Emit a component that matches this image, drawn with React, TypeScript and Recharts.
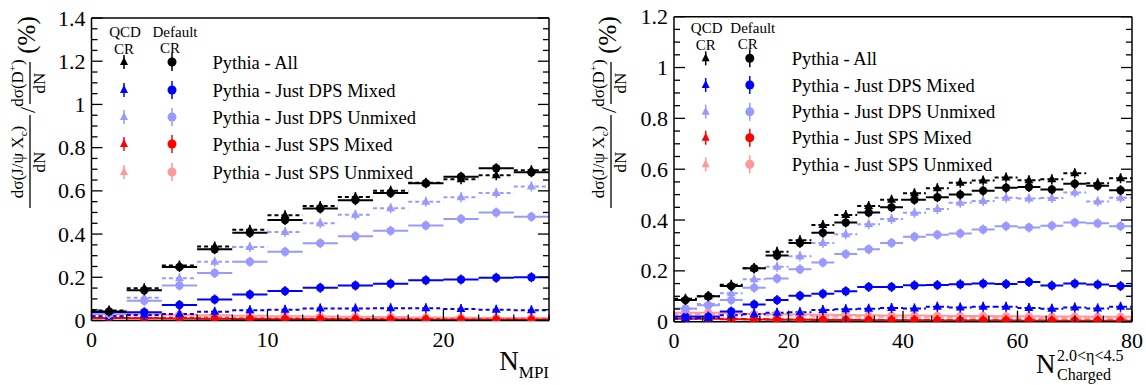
import React from 'react';
import { ComposedChart, Line, XAxis, YAxis, Legend } from 'recharts';

const FONT = '"Liberation Serif", "Times New Roman", serif';

const BLACK = '#000000';
const BLUE = '#0000ff';
const LIGHT_BLUE = '#9999ff';
const RED = '#ff0000';
const PINK = '#ff9999';

// ---- left panel: N_MPI, bins of width 2 ----
const mpiCenters = [1, 3, 5, 7, 9, 11, 13, 15, 17, 19, 21, 23, 25];
const mpiAllDef = [0.042, 0.14, 0.248, 0.33, 0.406, 0.465, 0.518, 0.557, 0.59, 0.635, 0.665, 0.705, 0.686];
const mpiAllQcd = [0.046, 0.149, 0.254, 0.342, 0.42, 0.487, 0.53, 0.572, 0.6, 0.637, 0.654, 0.672, 0.695];
const mpiDpsMixDef = [0.035, 0.038, 0.072, 0.097, 0.12, 0.136, 0.152, 0.162, 0.17, 0.186, 0.19, 0.198, 0.2];
const mpiDpsMixQcd = [0.02, 0.025, 0.03, 0.04, 0.048, 0.05, 0.055, 0.055, 0.057, 0.057, 0.053, 0.05, 0.047];
const mpiDpsUnDef = [0.03, 0.091, 0.162, 0.22, 0.272, 0.318, 0.358, 0.39, 0.415, 0.44, 0.47, 0.5, 0.48];
const mpiDpsUnQcd = [0.03, 0.105, 0.195, 0.272, 0.34, 0.41, 0.45, 0.49, 0.52, 0.55, 0.57, 0.59, 0.62];
const mpiSpsMixDef = [0.012, 0.01, 0.009, 0.008, 0.007, 0.006, 0.006, 0.005, 0.005, 0.004, 0.004, 0.004, 0.003];
const mpiSpsMixQcd = [0.015, 0.013, 0.011, 0.01, 0.009, 0.008, 0.007, 0.007, 0.006, 0.006, 0.005, 0.005, 0.005];
const mpiSpsUnDef = [0.03, 0.03, 0.027, 0.024, 0.022, 0.02, 0.019, 0.017, 0.016, 0.014, 0.013, 0.012, 0.011];
const mpiSpsUnQcd = [0.026, 0.025, 0.022, 0.02, 0.018, 0.017, 0.015, 0.014, 0.013, 0.012, 0.011, 0.01, 0.009];

// ---- right panel: N charged (2.0<eta<4.5), bins of width 4 ----
const chCenters = [2, 6, 10, 14, 18, 22, 26, 30, 34, 38, 42, 46, 50, 54, 58, 62, 66, 70, 74, 78];
const chAllDef = [0.085, 0.1, 0.14, 0.21, 0.26, 0.31, 0.35, 0.39, 0.43, 0.45, 0.48, 0.49, 0.5, 0.515, 0.527, 0.53, 0.52, 0.543, 0.535, 0.517];
const chAllQcd = [0.09, 0.1, 0.145, 0.21, 0.275, 0.32, 0.38, 0.42, 0.455, 0.48, 0.505, 0.525, 0.547, 0.556, 0.567, 0.557, 0.56, 0.584, 0.545, 0.564];
const chDpsMixDef = [0.02, 0.02, 0.04, 0.068, 0.085, 0.102, 0.11, 0.12, 0.137, 0.137, 0.143, 0.144, 0.147, 0.15, 0.148, 0.156, 0.142, 0.15, 0.146, 0.14];
const chDpsMixQcd = [0.012, 0.015, 0.025, 0.03, 0.035, 0.037, 0.046, 0.049, 0.051, 0.054, 0.052, 0.059, 0.056, 0.059, 0.059, 0.054, 0.051, 0.056, 0.052, 0.059];
const chDpsUnDef = [0.052, 0.065, 0.085, 0.134, 0.17, 0.206, 0.233, 0.266, 0.285, 0.31, 0.334, 0.342, 0.347, 0.363, 0.376, 0.371, 0.378, 0.39, 0.387, 0.376];
const chDpsUnQcd = [0.05, 0.07, 0.112, 0.167, 0.216, 0.258, 0.31, 0.344, 0.383, 0.404, 0.429, 0.443, 0.468, 0.475, 0.488, 0.485, 0.487, 0.508, 0.473, 0.488];
const chSpsMixDef = [0.012, 0.012, 0.01, 0.009, 0.008, 0.008, 0.007, 0.007, 0.006, 0.006, 0.006, 0.005, 0.005, 0.005, 0.005, 0.004, 0.004, 0.004, 0.004, 0.004];
const chSpsMixQcd = [0.015, 0.014, 0.012, 0.011, 0.01, 0.009, 0.009, 0.008, 0.008, 0.007, 0.007, 0.007, 0.006, 0.006, 0.006, 0.006, 0.005, 0.005, 0.005, 0.005];
const chSpsUnDef = [0.035, 0.035, 0.033, 0.03, 0.029, 0.028, 0.027, 0.026, 0.025, 0.024, 0.024, 0.023, 0.022, 0.022, 0.021, 0.021, 0.02, 0.02, 0.019, 0.019];
const chSpsUnQcd = [0.03, 0.03, 0.028, 0.026, 0.025, 0.024, 0.022, 0.021, 0.02, 0.019, 0.018, 0.018, 0.017, 0.016, 0.016, 0.015, 0.015, 0.015, 0.014, 0.014];

// ---- axis ticks ----
const mpiXMajor = [0, 10, 20];
const mpiXMinor = [0, 2, 4, 6, 8, 10, 12, 14, 16, 18, 20, 22, 24, 26];
const chXMajor = [0, 20, 40, 60, 80];
const chXMinor = [0, 5, 10, 15, 20, 25, 30, 35, 40, 45, 50, 55, 60, 65, 70, 75, 80];
const mpiYMajor = [0, 0.2, 0.4, 0.6, 0.8, 1, 1.2, 1.4];
const chYMajor = [0, 0.2, 0.4, 0.6, 0.8, 1, 1.2];
const yMinorStep = 0.05;

const legendNames = [
  'Pythia - All',
  'Pythia - Just DPS Mixed',
  'Pythia - Just DPS Unmixed',
  'Pythia - Just SPS Mixed',
  'Pythia - Just SPS Unmixed',
];
const legendColors = [BLACK, BLUE, LIGHT_BLUE, RED, PINK];

type Series = { key: string; color: string; qcd: boolean; values: number[] };

function steps(centers: number[], values: number[], half: number) {
  const out: any[] = [];
  centers.forEach((c, i) => {
    out.push({ x: c - half, y: values[i] });
    out.push({ x: c, y: values[i], mid: true });
    out.push({ x: c + half, y: values[i] });
    out.push({ x: c + half, y: null });
  });
  return out;
}

function minorTicks(max: number) {
  const t: number[] = [];
  for (let i = 0; i * yMinorStep <= max + 1e-9; i++) t.push(Math.round(i * yMinorStep * 100) / 100);
  return t;
}

const isIn = (arr: number[], v: number) => arr.some((m) => Math.abs(m - v) < 1e-6);

function markerDot(color: string, tri: boolean) {
  return (p: any) => {
    const { cx, cy, payload, index } = p;
    if (!payload || !payload.mid || cx == null || cy == null || payload.y == null) {
      return <g key={`e${index}`} />;
    }
    return (
      <g key={`m${index}`}>
        <line x1={cx} x2={cx} y1={cy - 5} y2={cy + 5} stroke={color} strokeWidth={1.5} />
        {tri ? (
          <polygon points={`${cx},${cy - 5} ${cx - 4.5},${cy + 3} ${cx + 4.5},${cy + 3}`} fill={color} />
        ) : (
          <circle cx={cx} cy={cy} r={4.2} fill={color} />
        )}
      </g>
    );
  };
}

function xTick(majors: number[], side: 'bottom' | 'top') {
  return (p: any) => {
    const { x, y, payload } = p;
    const v = payload.value;
    const major = isIn(majors, v);
    const len = major ? 11 : 6;
    const s = side === 'bottom' ? -1 : 1;
    return (
      <g>
        <line x1={x} x2={x} y1={y} y2={y + s * len} stroke="#000" strokeWidth={1.3} />
        {side === 'bottom' && major && (
          <text x={x} y={y + 26} textAnchor="middle" fontFamily={FONT} fontSize={22} fill="#000">
            {v}
          </text>
        )}
      </g>
    );
  };
}

function yTick(majors: number[], side: 'left' | 'right') {
  return (p: any) => {
    const { x, y, payload } = p;
    const v = payload.value;
    const major = isIn(majors, v);
    const len = major ? 11 : 6;
    const s = side === 'left' ? 1 : -1;
    return (
      <g>
        <line x1={x} x2={x + s * len} y1={y} y2={y} stroke="#000" strokeWidth={1.3} />
        {side === 'left' && major && (
          <text x={x - 6} y={y + 7.5} textAnchor="end" fontFamily={FONT} fontSize={22} fill="#000">
            {String(v)}
          </text>
        )}
      </g>
    );
  };
}

// rotated y title: dσ(J/ψ X_c)/dN / dσ(D+)/dN (%)
function yTitle(bar: number) {
  return () => (
    <g transform="rotate(-90)" fontFamily={FONT} fill="#000">
      <text x={-162} y={bar - 7} textAnchor="middle" fontSize={17}>
        dσ(J/ψ X<tspan fontSize={11} dy={4}>c</tspan>
        <tspan dy={-4}>)</tspan>
      </text>
      <line x1={-208} x2={-115} y1={bar} y2={bar} stroke="#000" strokeWidth={1.3} />
      <text x={-162} y={bar + 15} textAnchor="middle" fontSize={17}>dN</text>
      <text x={-110} y={bar + 5} textAnchor="middle" fontSize={22}>/</text>
      <text x={-83} y={bar - 7} textAnchor="middle" fontSize={17}>
        dσ(D<tspan fontSize={11} dy={-7}>+</tspan>
        <tspan dy={7}>)</tspan>
      </text>
      <line x1={-104} x2={-62} y1={bar} y2={bar} stroke="#000" strokeWidth={1.3} />
      <text x={-83} y={bar + 15} textAnchor="middle" fontSize={17}>dN</text>
      <text x={-35} y={bar + 5} textAnchor="middle" fontSize={25}>(%)</text>
    </g>
  );
}

type LegendPos = { tri: number; circ: number; text: number; rows: number[]; head: number };

function legendContent(pos: LegendPos, w: number) {
  return () => (
    <svg width={w} height={200} style={{ position: 'absolute', left: 0, top: 0, overflow: 'visible' }}>
      <g fontFamily={FONT} fill="#000">
        <text x={pos.tri + 1} y={pos.head} textAnchor="middle" fontSize={15}>QCD</text>
        <text x={pos.tri} y={pos.head + 17} textAnchor="middle" fontSize={15}>CR</text>
        <text x={pos.circ + 3} y={pos.head} textAnchor="middle" fontSize={15}>Default</text>
        <text x={pos.circ - 2} y={pos.head + 16} textAnchor="middle" fontSize={15}>CR</text>
        {legendNames.map((name, i) => {
          const y = pos.rows[i];
          const c = legendColors[i];
          return (
            <g key={name}>
              <line x1={pos.tri} x2={pos.tri} y1={y - 7} y2={y + 7} stroke={c} strokeWidth={1.5} />
              <polygon points={`${pos.tri},${y - 5} ${pos.tri - 4},${y + 3} ${pos.tri + 4},${y + 3}`} fill={c} />
              <line x1={pos.circ} x2={pos.circ} y1={y - 9} y2={y + 9} stroke={c} strokeWidth={1.5} />
              <circle cx={pos.circ} cy={y} r={4.5} fill={c} />
              <text x={pos.text} y={y + 6.5} fontSize={18.5}>{name}</text>
            </g>
          );
        })}
      </g>
    </svg>
  );
}

type PanelProps = {
  width: number;
  height: number;
  margin: { top: number; right: number; bottom: number; left: number };
  xMax: number;
  yMax: number;
  xMajor: number[];
  xMinor: number[];
  yMajor: number[];
  series: Series[];
  yBar: number;
  legend: LegendPos;
  xTitle: () => React.ReactNode;
};

function Panel(p: PanelProps) {
  const yTicks = minorTicks(p.yMax);
  const frame = { stroke: '#000', strokeWidth: 1.5 };
  // axes get a 1px size (0 would hide them); margins are reduced by the same 1px
  const m = { top: p.margin.top - 1, right: p.margin.right - 1, bottom: p.margin.bottom - 1, left: p.margin.left - 1 };
  return (
    <ComposedChart width={p.width} height={p.height} margin={m}>
      <XAxis
        xAxisId="b"
        type="number"
        dataKey="x"
        domain={[0, p.xMax]}
        allowDataOverflow
        ticks={p.xMinor}
        interval={0}
        height={1}
        tickSize={0}
        tickMargin={0}
        tickLine={false}
        axisLine={frame}
        tick={xTick(p.xMajor, 'bottom')}
        label={{ content: p.xTitle }}
      />
      <XAxis
        xAxisId="t"
        orientation="top"
        type="number"
        domain={[0, p.xMax]}
        allowDataOverflow
        ticks={p.xMinor}
        interval={0}
        height={1}
        tickSize={0}
        tickMargin={0}
        tickLine={false}
        axisLine={frame}
        tick={xTick(p.xMajor, 'top')}
      />
      <YAxis
        yAxisId="l"
        type="number"
        domain={[0, p.yMax]}
        allowDataOverflow
        ticks={yTicks}
        interval={0}
        width={1}
        tickSize={0}
        tickMargin={0}
        tickLine={false}
        axisLine={frame}
        tick={yTick(p.yMajor, 'left')}
        label={{ content: yTitle(p.yBar) }}
      />
      <YAxis
        yAxisId="r"
        orientation="right"
        type="number"
        domain={[0, p.yMax]}
        allowDataOverflow
        ticks={yTicks}
        interval={0}
        width={1}
        tickSize={0}
        tickMargin={0}
        tickLine={false}
        axisLine={frame}
        tick={yTick(p.yMajor, 'right')}
      />
      {p.series.map((s) => (
        <Line
          key={s.key}
          xAxisId="b"
          yAxisId="l"
          data={steps(p.xMax === 26 ? mpiCenters : chCenters, s.values, p.xMax === 26 ? 1 : 2)}
          dataKey="y"
          stroke={s.color}
          strokeWidth={2}
          strokeDasharray={s.qcd ? '4 3' : undefined}
          dot={markerDot(s.color, s.qcd)}
          activeDot={false}
          legendType="none"
          isAnimationActive={false}
        />
      ))}
      <Legend
        layout="vertical"
        align="center"
        verticalAlign="middle"
        content={legendContent(p.legend, p.width)}
        wrapperStyle={{ left: 0, top: 0, width: p.width, height: 200 }}
      />
    </ComposedChart>
  );
}

function makeSeries(
  spsUnQ: number[], spsUnD: number[], spsMixQ: number[], spsMixD: number[],
  dpsMixQ: number[], dpsMixD: number[], dpsUnQ: number[], dpsUnD: number[],
  allQ: number[], allD: number[],
): Series[] {
  return [
    { key: 'spsUnQ', color: PINK, qcd: true, values: spsUnQ },
    { key: 'spsUnD', color: PINK, qcd: false, values: spsUnD },
    { key: 'spsMixQ', color: RED, qcd: true, values: spsMixQ },
    { key: 'spsMixD', color: RED, qcd: false, values: spsMixD },
    { key: 'dpsMixQ', color: BLUE, qcd: true, values: dpsMixQ },
    { key: 'dpsMixD', color: BLUE, qcd: false, values: dpsMixD },
    { key: 'dpsUnQ', color: LIGHT_BLUE, qcd: true, values: dpsUnQ },
    { key: 'dpsUnD', color: LIGHT_BLUE, qcd: false, values: dpsUnD },
    { key: 'allQ', color: BLACK, qcd: true, values: allQ },
    { key: 'allD', color: BLACK, qcd: false, values: allD },
  ];
}

const mpiSeries = makeSeries(
  mpiSpsUnQcd, mpiSpsUnDef, mpiSpsMixQcd, mpiSpsMixDef,
  mpiDpsMixQcd, mpiDpsMixDef, mpiDpsUnQcd, mpiDpsUnDef,
  mpiAllQcd, mpiAllDef,
);
const chSeries = makeSeries(
  chSpsUnQcd, chSpsUnDef, chSpsMixQcd, chSpsMixDef,
  chDpsMixQcd, chDpsMixDef, chDpsUnQcd, chDpsUnDef,
  chAllQcd, chAllDef,
);

const mpiTitle = () => (
  <text x={549} y={370} textAnchor="end" fontFamily={FONT} fill="#000">
    <tspan fontSize={27}>N</tspan>
    <tspan fontSize={17} dy={8}>MPI</tspan>
  </text>
);

const chTitle = () => (
  <g fontFamily={FONT} fill="#000">
    <text x={476} y={373} fontSize={27}>N</text>
    <text x={497} y={361} fontSize={16}>2.0&lt;η&lt;4.5</text>
    <text x={497} y={380} fontSize={16}>Charged</text>
  </g>
);

export default function App() {
  return (
    <div style={{ position: 'absolute', left: 0, top: 0, width: 1146, height: 385, background: '#fff' }}>
      <div style={{ position: 'absolute', left: 0, top: 0 }}>
        <Panel
          width={560}
          height={385}
          margin={{ top: 18, left: 91.5, right: 11, bottom: 64.5 }}
          xMax={26}
          yMax={1.4}
          xMajor={mpiXMajor}
          xMinor={mpiXMinor}
          yMajor={mpiYMajor}
          series={mpiSeries}
          yBar={30}
          legend={{ tri: 124, circ: 172, text: 212.5, rows: [62, 90, 117, 144, 172], head: 37 }}
          xTitle={mpiTitle}
        />
      </div>
      <div style={{ position: 'absolute', left: 560, top: 0 }}>
        <Panel
          width={586}
          height={385}
          margin={{ top: 16.7, left: 114, right: 14, bottom: 63.3 }}
          xMax={80}
          yMax={1.2}
          xMajor={chXMajor}
          xMinor={chXMinor}
          yMajor={chYMajor}
          series={chSeries}
          yBar={51}
          legend={{ tri: 145.7, circ: 189.8, text: 231.7, rows: [58.3, 85, 111.7, 137.7, 164.3], head: 33 }}
          xTitle={chTitle}
        />
      </div>
    </div>
  );
}
